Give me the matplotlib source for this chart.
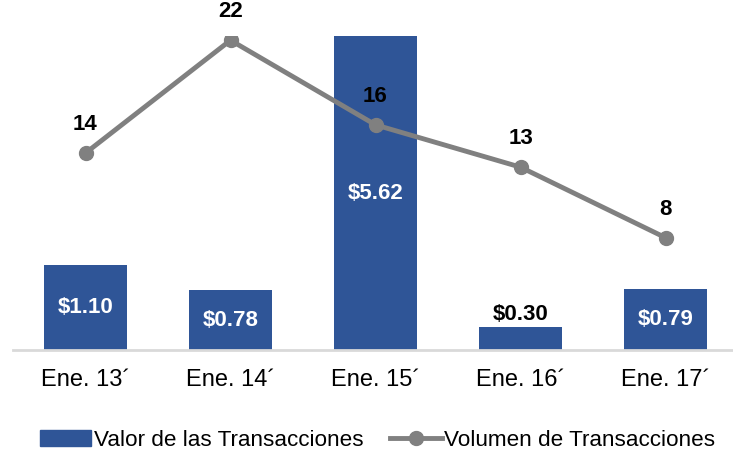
import matplotlib.pyplot as plt
from matplotlib.lines import Line2D
from matplotlib.patches import Patch

plt.rcParams['font.family'] = ['Liberation Sans', 'DejaVu Sans']

# data
categories = ['Ene. 13\u00b4', 'Ene. 14\u00b4', 'Ene. 15\u00b4', 'Ene. 16\u00b4', 'Ene. 17\u00b4']
valor = [1.10, 0.78, 5.62, 0.30, 0.79]
volumen = [14, 22, 16, 13, 8]

bar_color = '#2F5597'
line_color = '#808080'

fig = plt.figure(figsize=(7.33, 4.49), dpi=100)
ax = fig.add_axes([13/733, 0.2194, 725/733, 0.7004])
x = list(range(len(categories)))

ax.bar(x, valor, width=0.57, color=bar_color, zorder=2)
ax.set_ylim(0, 4.05)
ax.set_xlim(-0.5, 4.5)

# value labels on bars
for xi, v in zip(x, valor):
    if v < 0.5:
        ax.text(xi, v + 0.03, f'${v:.2f}', ha='center', va='bottom',
                fontsize=16, fontweight='bold', color='black')
    else:
        top = min(v, 4.05)
        ax.text(xi, top / 2, f'${v:.2f}', ha='center', va='center',
                fontsize=16, fontweight='bold', color='white')

ax.set_xticks(x)
ax.set_xticklabels(categories, fontsize=17)
ax.tick_params(axis='x', length=0, pad=13)
ax.set_yticks([])
for s in ['top', 'left', 'right']:
    ax.spines[s].set_visible(False)
ax.spines['bottom'].set_color('#D9D9D9')
ax.spines['bottom'].set_linewidth(2)

ax2 = ax.twinx()
ax2.plot(x, volumen, color=line_color, linewidth=3.5, marker='o', markersize=10)
ax2.set_ylim(0, 22.3)
ax2.set_yticks([])
for s in ['top', 'left', 'right', 'bottom']:
    ax2.spines[s].set_visible(False)

for xi, v in zip(x, volumen):
    ax2.annotate(str(v), (xi, v), xytext=(0, 20.5), textcoords='offset points',
                 ha='center', va='center', fontsize=16, fontweight='bold',
                 annotation_clip=False)

handles = [Patch(color=bar_color),
           Line2D([], [], color=line_color, linewidth=3.5, marker='o', markersize=10)]
labels = ['Valor de las Transacciones', 'Volumen de Transacciones']
fig.legend(handles, labels, loc='center', bbox_to_anchor=(0.515, 0.02), ncol=2,
           frameon=False, fontsize=16.2, handlelength=2.3, handletextpad=0.1,
           columnspacing=1.2)

fig.savefig('out.png', dpi=100)
